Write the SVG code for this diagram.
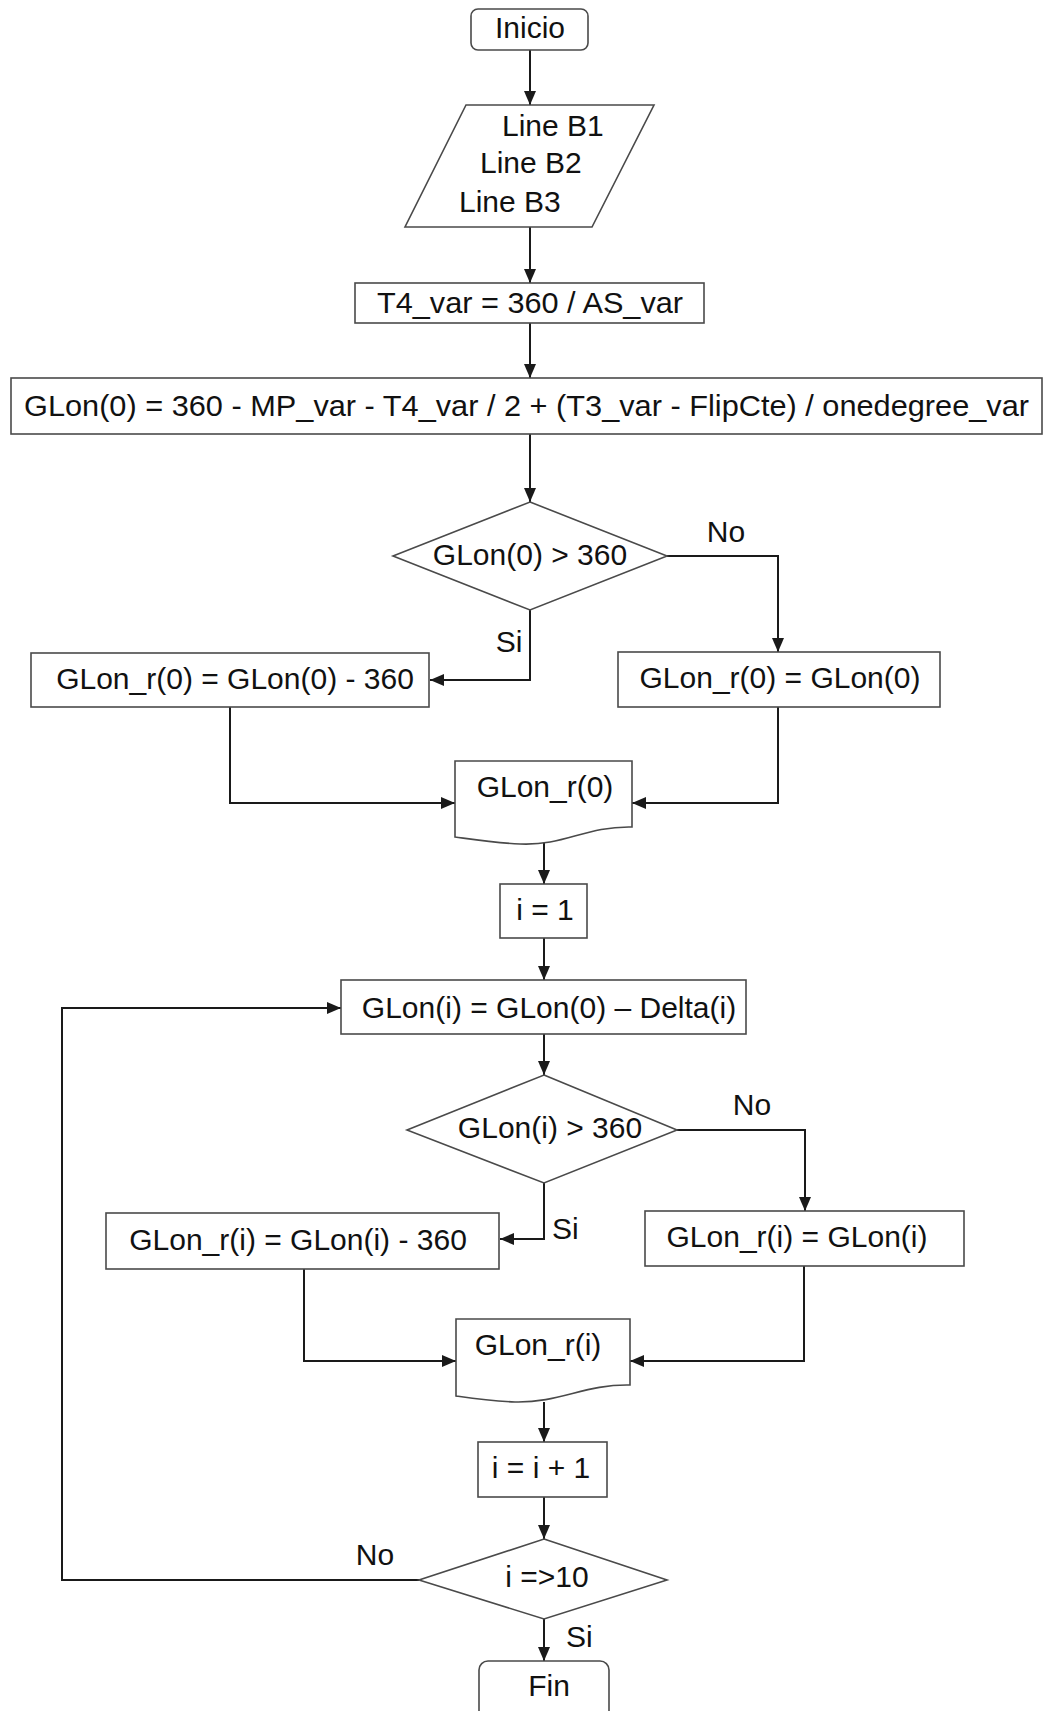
<svg xmlns="http://www.w3.org/2000/svg" width="1043" height="1711" viewBox="0 0 1043 1711">
<style>
.s{fill:#fff;stroke:#4a4a4a;stroke-width:1.6}
.c{fill:none;stroke:#1a1a1a;stroke-width:2}
text{font-family:"Liberation Sans",Arial,sans-serif;font-size:30px;fill:#111}
.m{text-anchor:middle}
</style>
<defs>
<marker id="a" viewBox="0 0 14 12" refX="14" refY="6" markerWidth="14" markerHeight="12" orient="auto" markerUnits="userSpaceOnUse">
<path d="M0,0 L14,6 L0,12 z" fill="#1a1a1a"/>
</marker>
</defs>
<rect width="1043" height="1711" fill="#fff"/>
<g id="connectors">
<path class="c" d="M530,50 V105" marker-end="url(#a)"/>
<path class="c" d="M530,227 V283" marker-end="url(#a)"/>
<path class="c" d="M530,323 V378" marker-end="url(#a)"/>
<path class="c" d="M530,434 V502" marker-end="url(#a)"/>
<path class="c" d="M667,556 H778 V652" marker-end="url(#a)"/>
<path class="c" d="M530,610 V680 H430" marker-end="url(#a)"/>
<path class="c" d="M230,707 V803 H455" marker-end="url(#a)"/>
<path class="c" d="M778,707 V803 H632" marker-end="url(#a)"/>
<path class="c" d="M544,843 V884" marker-end="url(#a)"/>
<path class="c" d="M544,938 V980" marker-end="url(#a)"/>
<path class="c" d="M419,1580 H62 V1008 H341" marker-end="url(#a)"/>
<path class="c" d="M544,1034 V1075" marker-end="url(#a)"/>
<path class="c" d="M677,1130 H805 V1211" marker-end="url(#a)"/>
<path class="c" d="M544,1183 V1239 H500" marker-end="url(#a)"/>
<path class="c" d="M304,1269 V1361 H456" marker-end="url(#a)"/>
<path class="c" d="M804,1266 V1361 H630" marker-end="url(#a)"/>
<path class="c" d="M544,1402 V1442" marker-end="url(#a)"/>
<path class="c" d="M544,1497 V1539" marker-end="url(#a)"/>
<path class="c" d="M544,1619 V1661" marker-end="url(#a)"/>
<text class="m" x="726" y="542">No</text>
<text class="m" x="509" y="652">Si</text>
<text class="m" x="752" y="1115">No</text>
<text x="552" y="1239">Si</text>
<text class="m" x="375" y="1565">No</text>
<text x="566" y="1647">Si</text>
</g>
<g id="inicio">
<rect class="s" x="471" y="9" width="117" height="41" rx="7"/>
<text class="m" x="530" y="38">Inicio</text>
</g>
<g id="input">
<path class="s" d="M466,105 H654 L592,227 H405 Z"/>
<text x="502" y="136">Line B1</text>
<text x="480" y="173">Line B2</text>
<text x="459" y="212">Line B3</text>
</g>
<g id="t4">
<rect class="s" x="355" y="283" width="349" height="40"/>
<text class="m" x="530" y="313" textLength="306" lengthAdjust="spacingAndGlyphs">T4_var = 360 / AS_var</text>
</g>
<g id="glon0">
<rect class="s" x="11" y="378" width="1031" height="56"/>
<text x="24" y="416" textLength="1005" lengthAdjust="spacingAndGlyphs">GLon(0) = 360 - MP_var - T4_var / 2 + (T3_var - FlipCte) / onedegree_var</text>
</g>
<g id="dec1">
<path class="s" d="M530,502 L667,556 L530,610 L393,556 Z"/>
<text class="m" x="530" y="565">GLon(0) &gt; 360</text>
</g>
<g id="glonr0a">
<rect class="s" x="31" y="653" width="398" height="54"/>
<text class="m" x="235" y="689">GLon_r(0) = GLon(0) - 360</text>
</g>
<g id="glonr0b">
<rect class="s" x="618" y="652" width="322" height="55"/>
<text class="m" x="780" y="688">GLon_r(0) = GLon(0)</text>
</g>
<g id="out0">
<path class="s" d="M455,761 H632 V827 C585,826 565,846 520,844 C495,843 470,839 455,837 Z"/>
<text class="m" x="545" y="797">GLon_r(0)</text>
</g>
<g id="i1">
<rect class="s" x="500" y="884" width="87" height="54"/>
<text class="m" x="545" y="920">i = 1</text>
</g>
<g id="gloni">
<rect class="s" x="341" y="980" width="405" height="54"/>
<text class="m" x="549" y="1018">GLon(i) = GLon(0) – Delta(i)</text>
</g>
<g id="dec2">
<path class="s" d="M544,1075 L677,1130 L544,1183 L407,1130 Z"/>
<text class="m" x="550" y="1138">GLon(i) &gt; 360</text>
</g>
<g id="glonria">
<rect class="s" x="106" y="1213" width="393" height="56"/>
<text class="m" x="298" y="1250">GLon_r(i) = GLon(i) - 360</text>
</g>
<g id="glonrib">
<rect class="s" x="645" y="1211" width="319" height="55"/>
<text class="m" x="797" y="1247">GLon_r(i) = GLon(i)</text>
</g>
<g id="outi">
<path class="s" d="M456,1319 H630 V1385 C585,1384 560,1403 515,1402 C490,1401 470,1398 456,1396 Z"/>
<text class="m" x="538" y="1355">GLon_r(i)</text>
</g>
<g id="inc">
<rect class="s" x="478" y="1442" width="129" height="55"/>
<text class="m" x="541" y="1478">i = i + 1</text>
</g>
<g id="dec3">
<path class="s" d="M544,1539 L667,1580 L544,1619 L419,1580 Z"/>
<text class="m" x="547" y="1587">i =&gt;10</text>
</g>
<g id="fin">
<rect class="s" x="479" y="1661" width="130" height="70" rx="9"/>
<text class="m" x="549" y="1696">Fin</text>
</g>
</svg>
